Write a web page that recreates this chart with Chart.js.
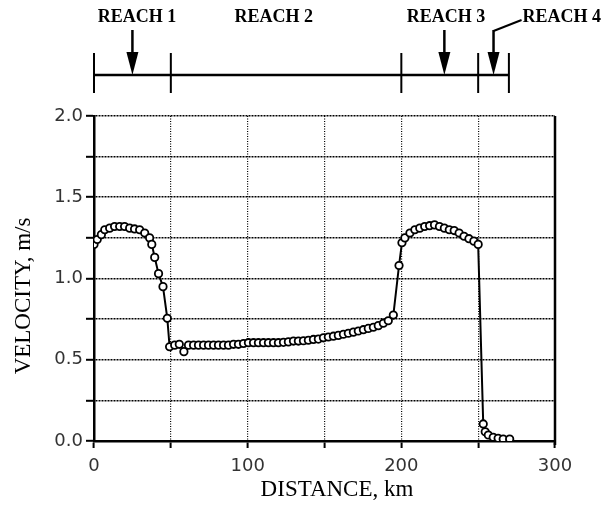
<!DOCTYPE html>
<html><head><meta charset="utf-8">
<script src="https://cdn.jsdelivr.net/npm/chart.js@4"></script>
<style>html,body{margin:0;padding:0;background:#fff}#wrap{width:605px;height:519px;position:relative}</style>
</head><body><div id="wrap"><canvas id="c" width="605" height="519"></canvas></div>
<script>
const distanceKm = [0,2.1,4.8,7.0,10.2,13.4,16.7,19.9,23.2,26.4,29.7,33.0,36.2,37.6,39.5,42.0,44.9,47.7,49.2,52.5,55.5,58.5,61.5,64.8,68.0,71.3,74.5,77.8,81.0,84.3,87.5,90.8,94.0,97.3,100.5,103.8,107.0,110.3,113.5,116.8,120.0,123.3,126.5,129.8,133.0,136.3,139.5,142.8,146.0,149.3,152.5,155.8,159.0,162.3,165.5,168.8,172.0,175.3,178.5,181.8,185.0,188.3,191.5,194.8,198.5,200.4,202.3,205.6,208.8,212.0,215.2,218.4,221.6,224.8,228.0,231.2,234.4,237.6,240.8,244.0,247.2,250.0,253.3,254.6,256.6,259.8,263.0,266.3,270.5];
const velocity = [1.21,1.24,1.27,1.30,1.31,1.32,1.32,1.32,1.31,1.305,1.30,1.28,1.25,1.21,1.13,1.03,0.95,0.755,0.58,0.59,0.595,0.55,0.59,0.59,0.59,0.59,0.59,0.59,0.59,0.59,0.59,0.595,0.595,0.60,0.605,0.605,0.605,0.605,0.605,0.605,0.605,0.607,0.61,0.615,0.615,0.617,0.62,0.625,0.627,0.635,0.64,0.645,0.65,0.657,0.663,0.67,0.677,0.685,0.693,0.70,0.71,0.725,0.74,0.775,1.08,1.22,1.25,1.28,1.30,1.31,1.32,1.325,1.33,1.32,1.31,1.30,1.295,1.28,1.26,1.245,1.23,1.21,0.105,0.057,0.037,0.023,0.017,0.012,0.012];
const xTickValues = [0,50,100,150,200,250,300];
const xTickLabels = ['0','','100','','200','','300'];
const yTickValues = [0,0.25,0.5,0.75,1.0,1.25,1.5,1.75,2.0];
const yTickLabels = ['0.0','','0.5','','1.0','','1.5','','2.0'];
const xTitle = 'DISTANCE, km';
const yTitle = 'VELOCITY, m/s';
const reachBoundsKm = [0,50,200,250,270];
const reachArrowsKm = [25,228,260];
const reachLabels = ['REACH 1','REACH 2','REACH 3','REACH 4'];
const reachLabelKm = [28,117,229,278];

const points = distanceKm.map((d,i)=>({x:d,y:velocity[i]}));

const reachPlugin = {
  id:'reach',
  afterDraw(chart){
    const ctx = chart.ctx, xs = chart.scales.x, ya = chart.scales.y;
    const yLine = 75;
    ctx.save();
    ctx.strokeStyle = '#000'; ctx.fillStyle = '#000'; ctx.lineWidth = 2.5;
    ctx.beginPath();
    ctx.moveTo(xs.getPixelForValue(reachBoundsKm[0]), yLine);
    ctx.lineTo(xs.getPixelForValue(reachBoundsKm[reachBoundsKm.length-1]), yLine);
    ctx.stroke();
    ctx.lineWidth = 2;
    reachBoundsKm.forEach(k=>{
      const px = xs.getPixelForValue(k);
      ctx.beginPath(); ctx.moveTo(px,53); ctx.lineTo(px,93); ctx.stroke();
    });
    ctx.lineWidth = 2.5;
    reachArrowsKm.forEach(k=>{
      const px = xs.getPixelForValue(k);
      ctx.beginPath(); ctx.moveTo(px,30); ctx.lineTo(px,56); ctx.stroke();
      ctx.beginPath(); ctx.moveTo(px-6,52); ctx.lineTo(px+6,52); ctx.lineTo(px,75); ctx.closePath(); ctx.fill();
    });
    const p4 = xs.getPixelForValue(reachArrowsKm[2]);
    ctx.lineWidth = 2;
    ctx.beginPath(); ctx.moveTo(p4,31); ctx.lineTo(p4+28,20); ctx.stroke();
    ctx.font = 'bold 18px "Liberation Serif", "Times New Roman", serif';
    ctx.textBaseline = 'middle';
    for (let i=0;i<3;i++){
      ctx.textAlign = 'center';
      ctx.fillText(reachLabels[i], xs.getPixelForValue(reachLabelKm[i]), 17);
    }
    ctx.textAlign = 'left';
    ctx.fillText(reachLabels[3], p4+29, 17);
    const rx = xs.getPixelForValue(300);
    ctx.lineWidth = 2.5;
    ctx.beginPath(); ctx.moveTo(rx, ya.getPixelForValue(2.0)); ctx.lineTo(rx, ya.getPixelForValue(0)+4); ctx.stroke();
    ctx.font = '23px "Liberation Serif", "Times New Roman", serif';
    ctx.textAlign = 'center'; ctx.textBaseline = 'middle';
    ctx.fillText(xTitle, 337, 490);
    ctx.translate(24, 296); ctx.rotate(-Math.PI/2);
    ctx.fillText(yTitle, 0, 0);
    ctx.restore();
  }
};

new Chart(document.getElementById('c'), {
  type:'line',
  data:{datasets:[{
    data: points,
    borderColor:'#000', borderWidth:2,
    pointRadius:3.7, pointBorderWidth:1.8,
    pointBackgroundColor:'#fff', pointBorderColor:'#000',
    tension:0, fill:false
  }]},
  options:{
    responsive:false, animation:false, devicePixelRatio:1,
    layout:{padding:{left:0,right:50,top:116,bottom:0}},
    plugins:{legend:{display:false}, tooltip:{enabled:false}},
    scales:{
      x:{
        type:'linear', min:0, max:300,
        afterBuildTicks(s){ s.ticks = xTickValues.map(v=>({value:v})); },
        afterFit(s){ s.height = 78; },
        ticks:{ callback:(v)=>xTickLabels[xTickValues.indexOf(v)], color:'#333', padding:8, maxRotation:0, autoSkip:false,
          font:{family:'"DejaVu Sans", Arial, sans-serif', size:18} },
        grid:{ color:'#000', lineWidth:1.2, tickLength:7, tickColor:'#000', tickWidth:2 },
        border:{ color:'#000', width:2.5, dash:[1,1.5] },
        title:{ display:false, text:xTitle }
      },
      y:{
        type:'linear', min:0, max:2.0,
        afterBuildTicks(s){ s.ticks = yTickValues.map(v=>({value:v})); },
        afterFit(s){ s.width = 94; },
        ticks:{ callback:(v)=>yTickLabels[yTickValues.indexOf(v)], color:'#333', padding:3, autoSkip:false,
          font:{family:'"DejaVu Sans", Arial, sans-serif', size:18} },
        grid:{ color:'#000', lineWidth:1.6, tickLength:8, tickColor:'#000', tickWidth:2 },
        border:{ color:'#000', width:2.5, dash:[2,1] },
        title:{ display:false, text:yTitle }
      }
    }
  },
  plugins:[reachPlugin]
});
</script></body></html>
